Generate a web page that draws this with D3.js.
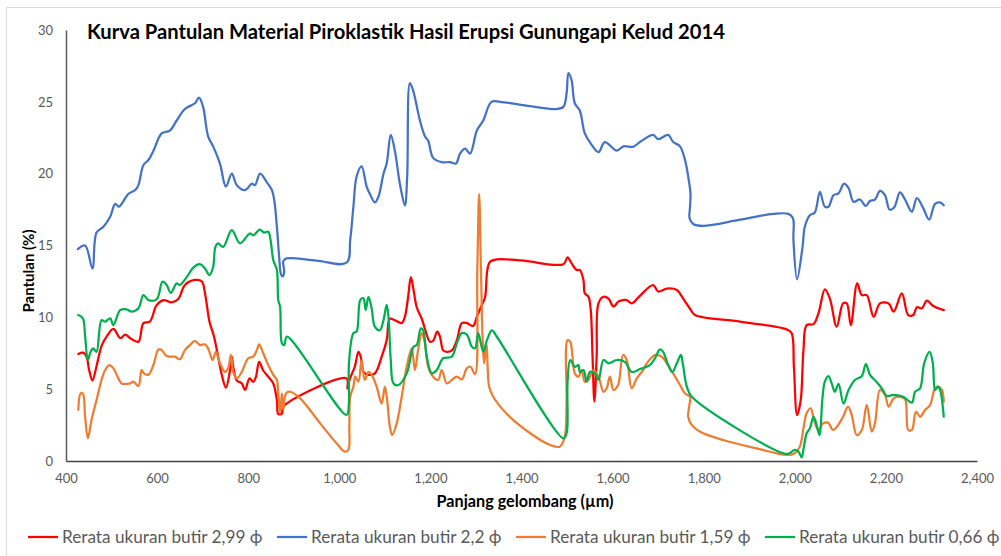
<!DOCTYPE html>
<html>
<head>
<meta charset="utf-8">
<script src="https://cdn.jsdelivr.net/npm/d3@7/dist/d3.min.js"></script>
<style>
  body { margin: 0; background: #fff; }
  svg { font-family: Lato, "Liberation Sans", sans-serif; }
</style>
</head>
<body>
<div id="app"></div>
<script>
"use strict";

// chart values
const titleText = "Kurva Pantulan Material Piroklastik Hasil Erupsi Gunungapi Kelud 2014";
const xTicks = [400, 600, 800, 1000, 1200, 1400, 1600, 1800, 2000, 2200, 2400];
const yTicks = [0, 5, 10, 15, 20, 25, 30];
const seriesNames = [
  "Rerata ukuran butir 2,99 \u03d5",
  "Rerata ukuran butir 2,2 \u03d5",
  "Rerata ukuran butir 1,59 \u03d5",
  "Rerata ukuran butir 0,66 \u03d5"
];
const seriesColors = ["#ff0000", "#4472c4", "#ed7d31", "#00b050"];

// [wavelength (µm), reflectance (%)]
const red299 = [
  [427, 7.45], [438, 7.54], [445, 7.26], [451, 6.3], [458, 5.6], [467, 6.6], [478, 8.0], [489, 8.65],
  [504, 9.2], [519, 8.55], [530, 8.8], [541, 8.55], [559, 8.3], [570, 9.6], [584, 9.7], [599, 10.85],
  [614, 11.2], [632, 11.04], [647, 11.3], [661, 12.25], [683, 12.6], [698, 12.5], [705, 11.7],
  [715, 9.7], [725, 8.65], [734, 7.26], [742, 6.0], [751, 5.1], [760, 6.3], [764, 7.26], [767, 6.56],
  [775, 5.6], [786, 5.4], [793, 4.94], [803, 5.75], [811, 5.5], [817, 5.86], [824, 6.9], [833, 6.3],
  [844, 5.86], [855, 5.4], [863, 4.24], [866, 3.27], [874, 3.3], [877, 3.78], [1016, 5.75],
  [1018, 5.05], [1023, 5.7], [1034, 6.56], [1042, 7.6], [1047, 7.26], [1053, 6.2], [1064, 6.0],
  [1078, 6.1], [1093, 7.26], [1104, 8.4], [1111, 9.9], [1122, 9.8], [1137, 9.6], [1144, 10.05],
  [1151, 11.4], [1157, 12.8], [1162, 12.1], [1170, 10.7], [1181, 9.9], [1188, 9.2], [1199, 8.3],
  [1206, 8.37], [1215, 9.0], [1221, 8.65], [1228, 7.7], [1236, 7.6], [1247, 7.7], [1258, 8.4],
  [1269, 9.6], [1280, 9.6], [1294, 9.4], [1302, 10.05], [1313, 10.86], [1320, 11.4], [1325, 13.3],
  [1331, 13.87], [1346, 14.04], [1404, 13.94], [1492, 13.7], [1501, 14.17], [1510, 13.76],
  [1521, 13.3], [1528, 13.3], [1536, 12.6], [1539, 11.67], [1547, 11.43], [1552, 10.5], [1556, 7.26],
  [1560, 4.13], [1565, 7.26], [1569, 10.97], [1580, 11.43], [1591, 11.3], [1602, 10.74],
  [1613, 11.1], [1631, 11.2], [1642, 10.97], [1660, 11.5], [1689, 12.25], [1700, 11.8], [1719, 12.0],
  [1741, 11.9], [1755, 11.3], [1770, 10.6], [1781, 10.16], [1880, 9.7], [1982, 9.16], [1993, 8.9],
  [1998, 6.56], [2005, 3.2], [2013, 4.24], [2019, 7.7], [2026, 9.46], [2041, 9.53], [2052, 10.28],
  [2066, 11.95], [2077, 11.3], [2092, 9.35], [2106, 10.97], [2114, 10.97], [2123, 9.46], [2137, 12.36],
  [2147, 11.55], [2158, 11.55], [2173, 10.04], [2187, 10.97], [2206, 10.97], [2217, 10.39],
  [2235, 11.67], [2249, 10.16], [2260, 10.16], [2268, 10.7], [2279, 10.63], [2290, 11.16],
  [2304, 10.79], [2327, 10.5]
];

const blue22 = [
  [426, 14.75], [442, 15.0], [458, 13.4], [467, 15.9], [482, 16.3], [497, 17.0], [508, 17.9],
  [516, 17.7], [537, 18.6], [552, 18.86], [559, 19.2], [570, 20.6], [581, 20.95], [592, 21.6],
  [610, 22.8], [628, 23.0], [643, 23.7], [661, 24.5], [683, 24.9], [692, 25.3], [701, 24.65],
  [712, 22.6], [723, 21.9], [738, 20.7], [751, 19.1], [764, 20.0], [775, 19.2], [793, 18.86],
  [808, 19.3], [815, 19.2], [826, 20.0], [841, 19.4], [852, 18.86], [857, 18.2], [863, 16.3],
  [868, 14.2], [872, 13.0], [876, 12.85], [879, 13.2], [877, 13.9], [884, 14.1], [950, 13.95],
  [1016, 13.8], [1024, 15.4], [1031, 17.7], [1038, 19.8], [1049, 20.5], [1060, 19.1], [1067, 18.6],
  [1078, 18.0], [1086, 18.4], [1097, 20.0], [1104, 20.7], [1113, 22.7], [1122, 21.6], [1133, 19.3],
  [1144, 17.8], [1149, 19.8], [1155, 26.3], [1162, 25.8], [1177, 23.7], [1188, 22.6], [1195, 22.3],
  [1206, 21.1], [1225, 20.8], [1243, 20.8], [1256, 20.7], [1265, 21.4], [1276, 21.75], [1287, 21.4],
  [1302, 23.0], [1316, 23.7], [1334, 25.0], [1353, 25.0], [1419, 24.7], [1477, 24.5], [1492, 24.65],
  [1499, 25.6], [1503, 27.0], [1510, 26.5], [1517, 24.9], [1528, 24.4], [1539, 22.8], [1554, 22.0],
  [1569, 21.5], [1583, 22.2], [1609, 21.6], [1624, 21.9], [1645, 21.87], [1660, 22.2], [1689, 22.7],
  [1700, 22.4], [1722, 22.7], [1733, 22.2], [1748, 21.9], [1759, 20.95], [1766, 19.8], [1771, 18.6],
  [1770, 17.7], [1769, 16.9], [1777, 16.5], [1799, 16.37], [1880, 16.8], [1953, 17.2], [1986, 17.2],
  [1996, 16.9], [1997, 15.4], [2005, 12.65], [2017, 14.9], [2022, 16.3], [2033, 17.1], [2044, 17.3],
  [2055, 18.74], [2066, 17.7], [2074, 17.7], [2085, 18.5], [2096, 18.63], [2108, 19.3], [2118, 19.0],
  [2129, 18.05], [2143, 18.2], [2156, 17.75], [2165, 18.1], [2176, 18.2], [2187, 18.8], [2198, 18.5],
  [2208, 17.5], [2218, 17.65], [2231, 18.7], [2242, 18.2], [2257, 17.35], [2268, 18.3], [2282, 17.6],
  [2295, 16.8], [2308, 17.9], [2319, 18.0], [2327, 17.8]
];

const orange159 = [
  [427, 3.55], [432, 4.7], [437, 4.7], [442, 3.08], [448, 1.58], [456, 2.85], [467, 4.24], [478, 5.64],
  [486, 6.33], [495, 6.68], [504, 6.45], [515, 5.75], [522, 5.4], [541, 5.4], [548, 5.52], [559, 5.22],
  [566, 6.33], [571, 6.1], [581, 6.0], [592, 6.68], [603, 7.77], [610, 7.72], [621, 7.3], [639, 7.26],
  [650, 7.08], [661, 7.72], [672, 8.07], [683, 8.37], [694, 8.07], [705, 8.12], [712, 7.84], [722, 7.03],
  [729, 7.6], [738, 6.8], [749, 6.2], [756, 6.45], [762, 7.38], [767, 6.2], [775, 5.75], [786, 6.2],
  [800, 7.15], [811, 7.26], [819, 7.72], [824, 8.12], [833, 7.5], [844, 6.68], [855, 6.0], [863, 5.64],
  [866, 4.7], [870, 3.3], [874, 4.7], [877, 3.55], [883, 4.7], [892, 4.82], [914, 4.36], [958, 2.62],
  [994, 1.23], [1012, 0.65], [1020, 0.77], [1022, 2.39], [1024, 4.47], [1031, 5.17], [1035, 5.87],
  [1042, 5.52], [1049, 7.03], [1056, 5.64], [1064, 6.2], [1071, 6.0], [1082, 5.17], [1093, 4.0],
  [1100, 5.17], [1105, 4.24], [1111, 2.39], [1116, 1.8], [1126, 2.62], [1137, 4.47], [1148, 6.56],
  [1159, 7.84], [1166, 6.33], [1173, 7.72], [1181, 8.9], [1188, 8.2], [1195, 6.56], [1206, 5.87],
  [1217, 5.64], [1225, 6.33], [1236, 5.4], [1247, 5.64], [1258, 5.87], [1269, 5.68], [1280, 6.45],
  [1288, 6.56], [1298, 6.05], [1303, 13.3], [1307, 18.6], [1311, 13.3], [1315, 8.2], [1318, 6.8],
  [1323, 8.2], [1326, 6.33], [1329, 5.17], [1338, 4.47], [1367, 3.3], [1419, 1.93], [1463, 1.11],
  [1484, 1.0], [1495, 1.69], [1499, 4.0], [1501, 8.4], [1507, 8.3], [1512, 7.26], [1517, 6.1],
  [1525, 5.87], [1532, 6.33], [1539, 5.52], [1547, 5.64], [1558, 6.33], [1569, 5.87], [1580, 4.82],
  [1587, 5.06], [1594, 5.87], [1602, 4.94], [1612, 5.29], [1623, 7.38], [1631, 7.03], [1642, 5.06],
  [1653, 5.75], [1667, 6.33], [1675, 6.8], [1693, 7.38], [1708, 7.26], [1719, 6.8], [1733, 6.1],
  [1748, 5.29], [1759, 4.7], [1770, 4.47], [1768, 3.78], [1766, 3.08], [1774, 2.5], [1792, 2.04],
  [1843, 1.46], [1916, 0.88], [1982, 0.42], [2000, 0.54], [2011, 1.0], [2019, 2.27], [2026, 3.32],
  [2035, 3.67], [2042, 2.85], [2052, 2.16], [2062, 2.62], [2073, 2.67], [2084, 2.16], [2095, 2.5],
  [2106, 3.08], [2117, 3.78], [2125, 3.2], [2136, 1.8], [2147, 2.16], [2158, 3.9], [2169, 2.04],
  [2176, 2.62], [2187, 4.94], [2198, 4.6], [2206, 3.78], [2217, 4.36], [2231, 4.47], [2242, 4.3],
  [2249, 2.16], [2257, 2.16], [2266, 3.43], [2275, 3.08], [2286, 3.55], [2297, 3.9], [2308, 5.06],
  [2315, 5.17], [2323, 4.94], [2327, 4.13]
];

const green066 = [
  [427, 10.16], [437, 9.93], [442, 8.65], [448, 7.03], [454, 7.6], [460, 7.84], [467, 7.6], [478, 9.8],
  [486, 9.7], [497, 9.93], [504, 9.46], [519, 10.5], [533, 10.56], [544, 10.39], [559, 10.63],
  [570, 11.55], [581, 11.2], [599, 11.25], [612, 12.48], [621, 12.25], [630, 11.7], [643, 12.36],
  [650, 12.25], [665, 12.8], [680, 13.48], [694, 13.7], [705, 13.4], [715, 12.94], [723, 13.5],
  [728, 14.9], [734, 15.15], [745, 14.9], [764, 16.07], [782, 15.15], [804, 15.85], [811, 15.7],
  [825, 16.1], [835, 15.9], [844, 15.96], [849, 15.4], [855, 14.0], [863, 13.3], [866, 11.2],
  [870, 10.74], [874, 8.2], [879, 8.07], [885, 8.65], [1016, 3.2], [1021, 4.0], [1021, 6.7],
  [1031, 8.9], [1038, 9.0], [1046, 11.2], [1053, 11.32], [1058, 10.5], [1064, 11.43], [1071, 10.63],
  [1078, 9.35], [1089, 9.1], [1097, 9.8], [1104, 10.86], [1108, 10.04], [1113, 7.03], [1119, 5.4],
  [1130, 5.29], [1148, 6.1], [1163, 7.95], [1170, 8.07], [1179, 9.23], [1184, 9.1], [1192, 7.26],
  [1203, 6.1], [1214, 6.33], [1228, 7.15], [1247, 7.26], [1258, 8.2], [1269, 8.9], [1280, 8.8],
  [1291, 7.95], [1298, 7.84], [1305, 8.9], [1316, 7.6], [1324, 8.4], [1335, 9.1], [1346, 8.65],
  [1492, 1.58], [1499, 1.93], [1501, 5.4], [1507, 7.03], [1517, 6.56], [1525, 6.68], [1528, 6.2],
  [1536, 6.33], [1543, 5.52], [1550, 6.2], [1561, 6.1], [1569, 5.64], [1580, 7.03], [1591, 6.8],
  [1609, 7.03], [1627, 6.9], [1642, 6.2], [1660, 6.4], [1682, 6.68], [1693, 7.15], [1704, 7.77],
  [1711, 7.6], [1722, 6.68], [1731, 6.2], [1741, 6.8], [1750, 7.38], [1754, 6.8], [1763, 5.17],
  [1774, 4.47], [1982, 0.49], [1993, 0.65], [2000, 0.77], [2008, 0.65], [2015, 0.26], [2020, 1.0],
  [2026, 1.93], [2033, 2.27], [2041, 3.08], [2047, 2.62], [2054, 1.8], [2061, 4.47], [2066, 5.52],
  [2074, 5.9], [2081, 5.4], [2088, 4.82], [2096, 5.36], [2107, 4.0], [2118, 4.94], [2132, 5.64],
  [2147, 5.9], [2156, 6.75], [2165, 6.0], [2179, 5.52], [2191, 5.06], [2202, 4.52], [2216, 4.6],
  [2238, 4.47], [2257, 4.06], [2264, 4.82], [2275, 5.06], [2284, 6.8], [2296, 7.6], [2303, 6.8],
  [2308, 4.94], [2314, 5.17], [2319, 4.94], [2327, 3.08]
];

const allSeries = [red299, blue22, orange159, green066];

const W = 1001, H = 556;

const svg = d3.select("#app").append("svg")
  .attr("width", W)
  .attr("height", H);

// chart frame (cropped in the reference)
svg.append("rect")
  .attr("x", 6.5).attr("y", 7.5)
  .attr("width", W + 10).attr("height", H + 10)
  .attr("fill", "none")
  .attr("stroke", "#d9d9d9");

const x = d3.scaleLinear().domain([400, 2400]).range([66, 977]);
const y = d3.scaleLinear().domain([0, 30]).range([461, 30]);

// axes
const yAxis = svg.append("g")
  .attr("transform", `translate(${x(400)},0)`)
  .call(d3.axisLeft(y).tickValues(yTicks).tickSize(0).tickPadding(13));
yAxis.select(".domain").attr("stroke", "#595959").attr("stroke-width", 1.5);
yAxis.selectAll("text")
  .attr("fill", "#595959")
  .style("font-size", "13px")
  .style("font-family", "Lato, sans-serif");

const xAxis = svg.append("g")
  .attr("transform", `translate(0,${y(0)})`)
  .call(d3.axisBottom(x).tickValues(xTicks).tickSize(0).tickPadding(13).tickFormat(d3.format(",")));
xAxis.select(".domain").attr("stroke", "#404040").attr("stroke-width", 1.5);
xAxis.selectAll("text")
  .attr("fill", "#595959")
  .style("font-size", "13px")
  .style("font-family", "Lato, sans-serif");

// series
const line = d3.line()
  .x(d => x(d[0]))
  .y(d => y(d[1]))
  .curve(d3.curveCatmullRom.alpha(0.5));

svg.append("g")
  .selectAll("path")
  .data(allSeries)
  .join("path")
  .attr("d", line)
  .attr("fill", "none")
  .attr("stroke", (d, i) => seriesColors[i])
  .attr("stroke-width", 2.25)
  .attr("stroke-linejoin", "round")
  .attr("stroke-linecap", "round");

// title
svg.append("text")
  .attr("x", 87)
  .attr("y", 39)
  .attr("font-size", 20.2)
  .attr("font-weight", "bold")
  .attr("fill", "#000")
  .text(titleText);

// axis titles
svg.append("text")
  .attr("x", 525)
  .attr("y", 507)
  .attr("text-anchor", "middle")
  .attr("font-size", 16.2)
  .attr("font-weight", "bold")
  .text("Panjang gelombang (\u00b5m)");

svg.append("text")
  .attr("transform", "translate(34,271) rotate(-90)")
  .attr("text-anchor", "middle")
  .attr("font-size", 15)
  .attr("font-weight", "bold")
  .text("Pantulan (%)");

// legend
const legendX = [28, 277, 516, 765];
const legend = svg.append("g")
  .selectAll("g")
  .data(seriesNames)
  .join("g")
  .attr("transform", (d, i) => `translate(${legendX[i]},537)`);

legend.append("line")
  .attr("x1", 0).attr("x2", 30)
  .attr("stroke", (d, i) => seriesColors[i])
  .attr("stroke-width", 2.25);

legend.append("text")
  .attr("x", 34)
  .attr("dy", "0.35em")
  .attr("font-size", 17.2)
  .attr("fill", "#595959")
  .text(d => d);
</script>
</body>
</html>
